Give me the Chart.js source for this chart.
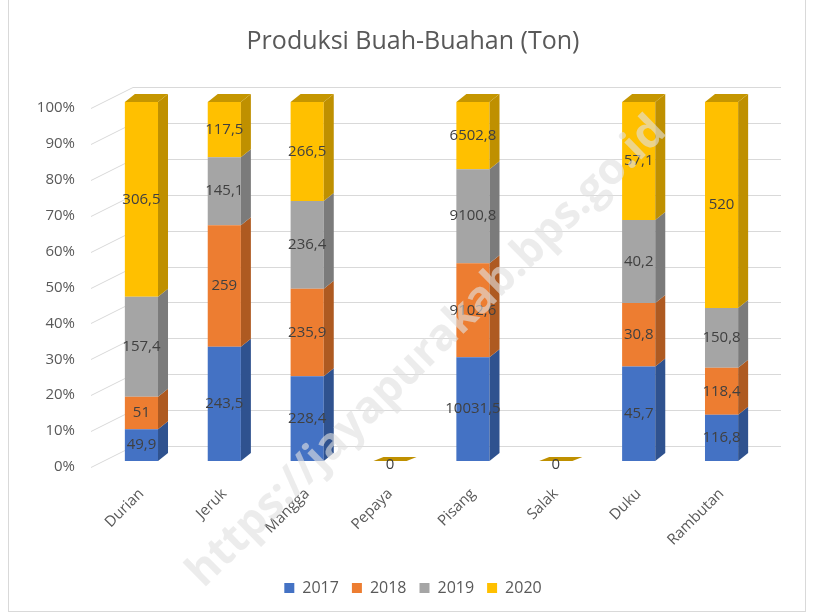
<!DOCTYPE html>
<html>
<head>
<meta charset="utf-8">
<script src="https://cdn.jsdelivr.net/npm/chart.js@4"></script>
<style>
  html, body { margin: 0; padding: 0; background: #fff; }
  #wrap { position: absolute; left: 8px; top: 0; width: 798px; height: 612px; border: 1px solid #d9d9d9; border-top: none; box-sizing: border-box; }
</style>
</head>
<body>
<div id="wrap"><canvas id="barChart"></canvas></div>
<script>
const categories = ['Durian', 'Jeruk', 'Mangga', 'Pepaya', 'Pisang', 'Salak', 'Duku', 'Rambutan'];
const years = ['2017', '2018', '2019', '2020'];
const y2017 = [49.9, 243.5, 228.4, 0, 10031.5, 0, 45.7, 116.8];
const y2018 = [51, 259, 235.9, 0, 9102.6, 0, 30.8, 118.4];
const y2019 = [157.4, 145.1, 236.4, 0, 9100.8, 0, 40.2, 150.8];
const y2020 = [306.5, 117.5, 266.5, 0, 6502.8, 0, 57.1, 520];
const percentTicks = [0, 10, 20, 30, 40, 50, 60, 70, 80, 90, 100];

const series = [y2017, y2018, y2019, y2020];
const colors = ['#4472C4', '#ED7D31', '#A5A5A5', '#FFC000'];
const sideColors = ['#2F528F', '#AE5A21', '#7B7B7B', '#BF9000'];
const topColors = ['#5B84CE', '#F0904D', '#B7B7B7', '#C59600'];

let totals = categories.map((c, i) => series.reduce((s, arr) => s + arr[i], 0));
let percent = arr => arr.map((v, i) => totals[i] ? v / totals[i] * 100 : 0);
let fmt = v => String(v).replace('.', ',');

const DX = 10, DY = 8;

// back wall grid lines, bent at the left like the 3D chart
let wallGrid = {
  id: 'wallGrid',
  beforeDatasetsDraw(chart) {
    let ctx = chart.ctx, area = chart.chartArea, y = chart.scales.y;
    ctx.save();
    ctx.strokeStyle = '#d9d9d9';
    ctx.lineWidth = 1;
    percentTicks.forEach(v => {
      let py = Math.round(y.getPixelForValue(v)) + 0.5;
      ctx.beginPath();
      ctx.moveTo(area.left - 9, py + 6);
      ctx.lineTo(area.left + 33, py - 15);
      ctx.lineTo(area.right + 18, py - 15);
      ctx.stroke();
    });
    ctx.restore();
  }
};

let bar3d = {
  id: 'bar3d',
  afterDatasetsDraw(chart) {
    let ctx = chart.ctx;
    ctx.save();
    categories.forEach((c, j) => {
      let topIdx = -1;
      series.forEach((arr, i) => { if (arr[j] > 0) topIdx = i; });
      series.forEach((arr, i) => {
        let bar = chart.getDatasetMeta(i).data[j];
        let left = bar.x - bar.width / 2, right = bar.x + bar.width / 2;
        if (totals[j] === 0) {
          if (i !== series.length - 1) return;
          ctx.fillStyle = sideColors[i];
          ctx.beginPath();
          ctx.moveTo(left, bar.base);
          ctx.lineTo(left + DX, bar.base - DY / 2);
          ctx.lineTo(right + DX, bar.base - DY / 2);
          ctx.lineTo(right, bar.base);
          ctx.closePath();
          ctx.fill();
          return;
        }
        if (arr[j] <= 0) return;
        ctx.fillStyle = sideColors[i];
        ctx.beginPath();
        ctx.moveTo(right, bar.y);
        ctx.lineTo(right + DX, bar.y - DY);
        ctx.lineTo(right + DX, bar.base - DY);
        ctx.lineTo(right, bar.base);
        ctx.closePath();
        ctx.fill();
        if (i === topIdx) {
          ctx.fillStyle = topColors[i];
          ctx.beginPath();
          ctx.moveTo(left, bar.y);
          ctx.lineTo(left + DX, bar.y - DY);
          ctx.lineTo(right + DX, bar.y - DY);
          ctx.lineTo(right, bar.y);
          ctx.closePath();
          ctx.fill();
        }
      });
    });
    // value labels
    ctx.font = '15px "Open Sans", sans-serif';
    ctx.fillStyle = '#404040';
    ctx.textAlign = 'center';
    ctx.textBaseline = 'middle';
    categories.forEach((c, j) => {
      if (totals[j] === 0) {
        let bar = chart.getDatasetMeta(series.length - 1).data[j];
        ctx.fillText('0', bar.x, bar.base + 4);
        return;
      }
      series.forEach((arr, i) => {
        if (arr[j] <= 0) return;
        let bar = chart.getDatasetMeta(i).data[j];
        ctx.fillText(fmt(arr[j]), bar.x, (bar.y + bar.base) / 2);
      });
    });
    // watermark
    ctx.translate(418, 352);
    ctx.rotate(-Math.PI / 4.05);
    ctx.font = 'bold 44px "Open Sans", sans-serif';
    ctx.fillStyle = 'rgba(225,225,225,0.62)';
    ctx.fillText('https://jayapurakab.bps.go.id', 0, 0);
    ctx.restore();
  }
};

let barCtx = document.getElementById('barChart');

let barConfig = {
  type: 'bar',
  data: {
    labels: categories,
    datasets: years.map((y, i) => ({
      label: y,
      data: percent(series[i]),
      backgroundColor: colors[i],
      categoryPercentage: 1,
      barPercentage: 0.4,
    })),
  },
  options: {
    responsive: true,
    maintainAspectRatio: false,
    animation: false,
    layout: { padding: { left: 24, right: 12, top: 14, bottom: 5 } },
    plugins: {
      title: {
        display: true,
        text: 'Produksi Buah-Buahan (Ton)',
        color: '#595959',
        font: { family: '"Open Sans", sans-serif', size: 25, weight: 'normal' },
        padding: { top: 13, bottom: 45 },
      },
      legend: {
        position: 'bottom',
        labels: {
          color: '#595959',
          font: { family: '"Open Sans", sans-serif', size: 16 },
          boxWidth: 10,
          boxHeight: 10,
          padding: 13,
        },
      },
      tooltip: { enabled: false },
    },
    scales: {
      x: {
        stacked: true,
        grid: { display: false },
        border: { display: false },
        afterFit: axis => { axis.height = 106; },
        ticks: {
          color: '#595959',
          font: { family: '"Open Sans", sans-serif', size: 15 },
          maxRotation: 45,
          minRotation: 45,
          padding: 16,
        },
      },
      y: {
        stacked: true,
        min: 0,
        max: 100,
        afterBuildTicks: axis => { axis.ticks = percentTicks.map(v => ({ value: v })); },
        afterFit: axis => { axis.width = 67; },
        grid: { display: false },
        border: { display: false },
        ticks: {
          color: '#595959',
          font: { family: '"Open Sans", sans-serif', size: 15 },
          callback: v => v + '%',
          padding: 17,
          labelOffset: 6,
        },
      },
      // empty right-hand spacer so the title and legend sit where the original has them
      spacer: {
        type: 'linear',
        position: 'right',
        grid: { display: false },
        border: { display: false },
        ticks: { display: false },
        afterFit: axis => { axis.width = 30; },
      },
    },
  },
  plugins: [wallGrid, bar3d],
};

window.barChartInstance = new Chart(barCtx, barConfig);
</script>
</body>
</html>
